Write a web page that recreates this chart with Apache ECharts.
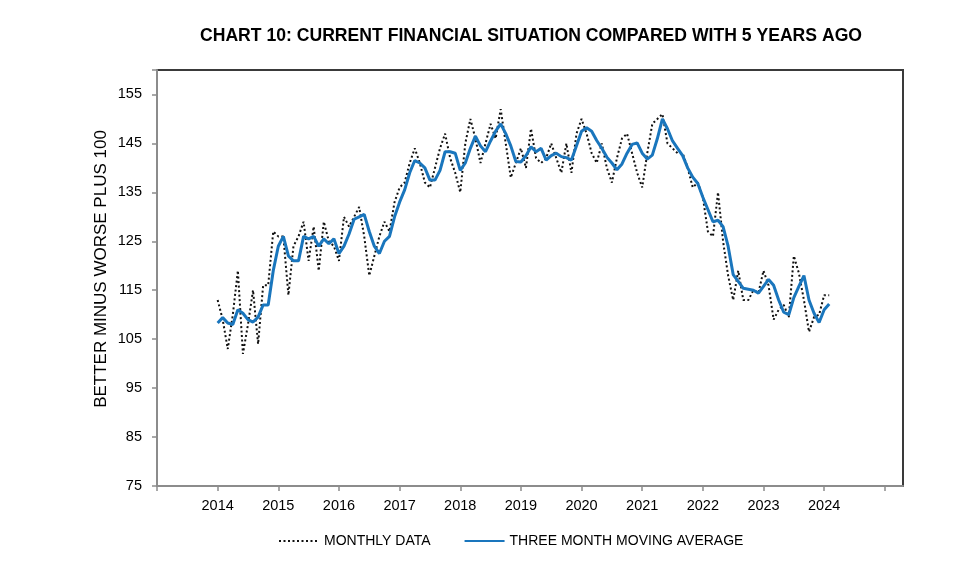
<!DOCTYPE html>
<html>
<head>
<meta charset="utf-8">
<script src="https://cdn.jsdelivr.net/npm/echarts@6/dist/echarts.min.js"></script>
<style>
  html, body { margin: 0; padding: 0; background: #fff; }
  #chart { width: 973px; height: 580px; }
</style>
</head>
<body>
<div id="chart"></div>
<script>
// Monthly data, Jan 2014 .. Feb 2024
const startYear = 2014;
const monthly = [
  113, 109, 103, 110, 119, 102, 108, 115, 104, 116, 116, 127,
  126, 126, 114, 124, 126, 129, 121, 128, 119, 129, 125, 124,
  121, 130, 128, 130, 132, 126, 118, 122, 126, 129, 127, 133,
  136, 137, 141, 144, 141, 137, 136, 140, 144, 147, 142, 139,
  135, 145, 150, 146, 141, 145, 149, 146, 152, 145, 138, 141,
  144, 140, 148, 142, 141, 142, 145, 142, 139, 145, 139, 147,
  150, 147, 143, 141, 145, 140, 137, 142, 146, 147, 143, 139,
  136, 143, 149, 150, 151, 145, 144, 143, 143, 140, 136, 137,
  134, 127, 126, 135, 125, 118, 113, 119, 113, 113, 115, 114.5,
  119, 116, 109, 111, 112, 109.5, 122, 118.5, 113, 106.5, 109.5, 110,
  114, 114
];
const movingAverage = [
  108.3, 109.4, 108.3, 108, 111, 110.3, 109, 108.5, 109.5, 112, 112, 119,
  124, 126, 122, 121, 121, 126, 125.5, 126, 124, 125.5, 124.5, 125.5,
  122.5, 124, 126.5, 129.5, 130, 130.5, 127, 124, 122.5, 125, 126, 130,
  133, 135.5, 139, 141.5, 141, 140, 137.5, 137.5, 139.5, 143.3, 143.3, 143,
  139.5, 141, 144, 146.5, 144.5, 143.3, 145.5, 147.5, 149, 147, 144.5, 141.3,
  141.2, 142.5, 144.3, 143.3, 144, 141.6, 142.5, 143, 142.3, 142.1, 141.6, 144.5,
  147.5, 148.2, 147.5, 145.6, 144, 142.2, 141, 139.6, 140.8, 143, 144.8, 145.1,
  143, 141.8, 142.6, 146, 150, 148, 145.5, 144, 142.5, 140, 138.1, 136.8,
  134, 131.5, 129, 129.3, 128, 124, 118.2, 116.8, 115.4, 115.2, 115, 114.4,
  115.8, 117.2, 116, 113, 110.5, 110, 113.5, 115.8, 118, 113, 110.3, 108.4,
  111, 112.2
];
const yearLabels = ['2014','2015','2016','2017','2018','2019','2020','2021','2022','2023','2024'];
const seriesNames = ['MONTHLY DATA', 'THREE MONTH MOVING AVERAGE'];
const yAxisTitle = 'BETTER MINUS WORSE PLUS 100';

const toPoints = arr => arr.map((v, i) => [startYear + i / 12, v]);

const chart = echarts.init(document.getElementById('chart'));
const FONT = '"Liberation Sans", Arial, sans-serif';
chart.setOption({
  animation: false,
  title: {
    text: 'CHART 10: CURRENT FINANCIAL SITUATION COMPARED WITH 5 YEARS AGO',
    left: 526, top: 22, textAlign: 'center',
    textStyle: { fontFamily: FONT, fontSize: 17.6, fontWeight: 'bold', color: '#000' }
  },
  legend: {
    left: 273, top: 529,
    itemWidth: 40, itemHeight: 14, itemGap: 33,
    itemStyle: { opacity: 0 },
    textStyle: { fontFamily: FONT, fontSize: 14, color: '#000' },
    data: seriesNames
  },
  graphic: [{
    type: 'text',
    x: 101, y: 269,
    rotation: Math.PI / 2,
    style: {
      text: yAxisTitle,
      fontFamily: FONT, fontSize: 17, fill: '#000',
      textAlign: 'center', textVerticalAlign: 'middle'
    }
  }],
  grid: {
    left: 157, right: 70, top: 70, bottom: 94,
    show: true, borderColor: '#3a3a3a', borderWidth: 2, backgroundColor: '#fff'
  },
  xAxis: {
    type: 'value', min: 2013, max: 2025.3, interval: 1,
    splitLine: { show: false },
    axisLine: { lineStyle: { color: '#8c8c8c', width: 2 } },
    axisTick: { length: 5, lineStyle: { color: '#8c8c8c', width: 1.5 } },
    axisLabel: {
      fontFamily: FONT, fontSize: 14.5, color: '#000', margin: 12,
      showMaxLabel: false,
      formatter: v => yearLabels.includes(String(Math.round(v))) && Math.abs(v - Math.round(v)) < 1e-6 ? String(Math.round(v)) : ''
    }
  },
  yAxis: {
    type: 'value', min: 75, max: 160, interval: 10,
    splitLine: { show: false },
    axisLine: { show: true, lineStyle: { color: '#8c8c8c', width: 2 } },
    axisTick: { show: true, length: 5, lineStyle: { color: '#8c8c8c', width: 1.5 } },
    axisLabel: {
      fontFamily: FONT, fontSize: 14.5, color: '#000', margin: 15,
      formatter: v => (v >= 160 ? '' : String(v))
    }
  },
  series: [
    {
      name: seriesNames[0], type: 'line', symbol: 'none',
      data: toPoints(monthly),
      lineStyle: { color: '#111', width: 2, type: [2, 2.5] },
      itemStyle: { color: '#111' },
      z: 2
    },
    {
      name: seriesNames[1], type: 'line', symbol: 'none',
      data: toPoints(movingAverage),
      lineStyle: { color: '#1a76bd', width: 3 },
      itemStyle: { color: '#1a76bd' },
      z: 3
    }
  ]
});
</script>
</body>
</html>
